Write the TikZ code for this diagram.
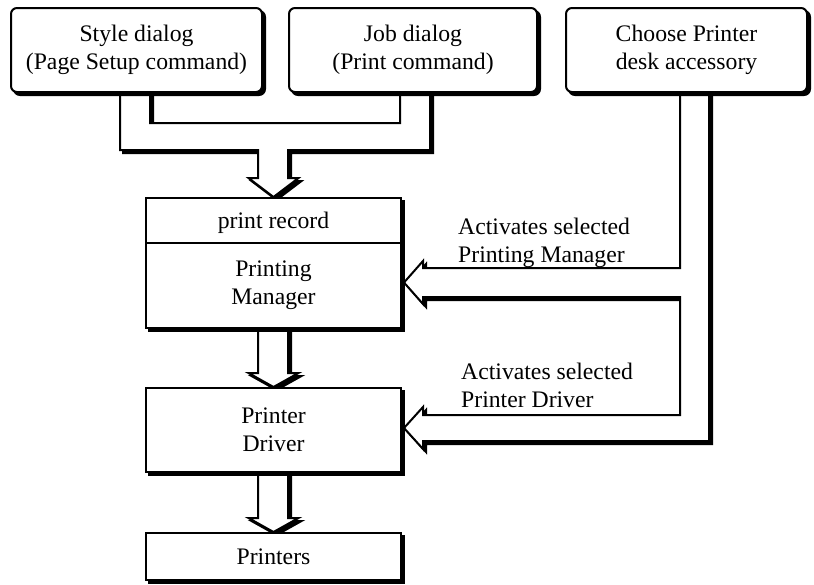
\documentclass[tikz,border=0pt]{standalone}
\usepackage{fontspec}
\setmainfont{Liberation Serif}
\usetikzlibrary{calc,backgrounds}
\newcommand\lblfont{\fontsize{23.7pt}{28pt}\selectfont}
\tikzset{
  shadowed/.style={preaction={draw=black, fill=black, line width=2pt,
      transform canvas={shift={(3pt,-3pt)}}}},
  topbox/.style={shadowed, draw, fill=white, line width=2pt, rounded corners=6pt,
      minimum height=84pt, inner sep=0pt, outer sep=0pt, align=center},
  stagebox/.style={shadowed, draw, fill=white, line width=2pt, minimum width=255pt,
      inner sep=0pt, outer sep=0pt, align=center},
  hollow/.style={shadowed, draw, fill=white, line width=2pt, line join=miter},
  note/.style={anchor=west, align=left, inner sep=0pt},
  every node/.style={font=\lblfont}
}
\begin{document}
\begin{tikzpicture}[x=1pt, y=-1pt]
\useasboundingbox (0,0) rectangle (814,584);

% boxes
\node[topbox, minimum width=251pt] (style)  at (136.5,50) {Style dialog\\(Page Setup command)};
\node[topbox, minimum width=248pt] (job)    at (413,50)   {Job dialog\\(Print command)};
\node[topbox, minimum width=241pt] (choose) at (686.5,50) {Choose Printer\\desk accessory};
\node[stagebox, minimum height=45pt, text height=16pt, text depth=0pt] (rec) at (273.5,220.5) {print record};
\node[stagebox, minimum height=85pt] (pm)  at (273.5,285.5) {Printing\\Manager};
\node[stagebox, minimum height=84pt] (drv) at (273.5,430)   {Printer\\Driver};
\node[stagebox, minimum height=47pt] (prn) at (273.5,556.5) {Printers};

% labels of the activation flows
\node[note] (lab1) at (458,243)   {Activates selected\\Printing Manager};
\node[note] (lab2) at (461,385.5) {Activates selected\\Printer Driver};

% hollow flows, drawn behind the boxes
\begin{scope}[on background layer]
  % dialogs merge into one flow towards the print record
  \path[hollow]
    ($(style.south)+(-16.5,0)$) -- ++(0,58) -- ++(138,0) -- ++(0,28) -- ++(-9.5,0)
    -- ($(rec.north)+(0,-1)$) -- ++(25,-19) -- ++(-10.5,0) -- ++(0,-28)
    -- ++(142,0) -- ($(job.south)+(17,0)$) -- ++(-30,0) -- ++(0,31)
    -- ++(-250,0) -- ($(style.south)+(13.5,0)$) -- cycle;

  % Printing Manager to Printer Driver
  \path[hollow]
    ($(pm.south)+(-15.5,0)$) -- ++(0,45) -- ++(-9.5,0)
    -- ($(drv.north)+(0,-1)$) -- ++(25,-14) -- ++(-10.5,0)
    -- ($(pm.south)+(14.5,0)$) -- cycle;

  % Printer Driver to Printers
  \path[hollow]
    ($(drv.south)+(-15.5,0)$) -- ++(0,46) -- ++(-9.5,0)
    -- ($(prn.north)+(0,-1)$) -- ++(25,-14) -- ++(-10.5,0)
    -- ($(drv.south)+(14.5,0)$) -- cycle;

  % Choose Printer activates both the manager and the driver
  \path[hollow]
    ($(choose.south)+(-6.5,0)$) -- ++(0,176) -- ++(-257,0) -- ++(0,-7)
    -- ($(pm.east)+(3,-3)$) -- ++(19,21.5) -- ++(0,-7) -- ++(257,0)
    -- ++(0,118) -- ++(-257,0) -- ++(0,-8)
    -- ($(drv.east)+(3,-2)$) -- ++(19,21) -- ++(0,-8) -- ++(286,0)
    -- ($(choose.south)+(22.5,0)$) -- cycle;
\end{scope}
\end{tikzpicture}
\end{document}
